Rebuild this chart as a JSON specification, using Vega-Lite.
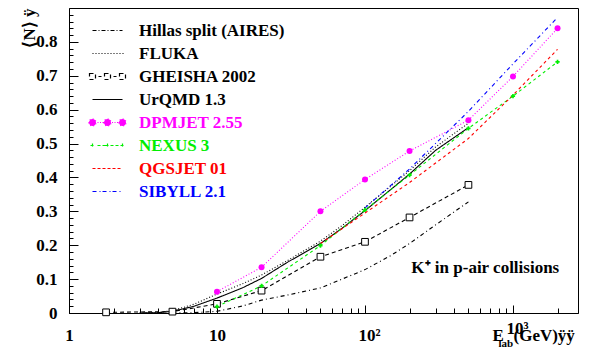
{
  "$schema": "https://vega.github.io/schema/vega-lite/v6.json",
  "width": 509,
  "height": 305,
  "autosize": {"type": "none"},
  "padding": {"left": 69, "top": 8, "right": 18, "bottom": 47},
  "background": "white",
  "params": [
    {"name": "legNames", "value": ["Hillas split (AIRES)", "FLUKA", "GHEISHA 2002", "UrQMD 1.3", "DPMJET 2.55", "NEXUS 3", "QGSJET 01", "SIBYLL 2.1"]},
    {"name": "legColors", "value": ["#000000", "#000000", "#000000", "#000000", "#ff00ff", "#00ee00", "#ff0000", "#0000ff"]},
    {"name": "legPaths", "value": [
      "M-3,0h0.8M-1.8,0h0.2M-1.2,0h0.8M0,0h0.2M0.6,0h0.8M1.8,0h0.2M2.4,0h0.6",
      "M-3,0h0.2M-2.4,0h0.2M-1.8,0h0.2M-1.2,0h0.2M-0.6,0h0.2M0,0h0.2M0.6,0h0.2M1.2,0h0.2M1.8,0h0.2M2.4,0h0.2M3,0h0.2",
      "M-3.6,-0.6h1.2v1.2h-1.2zM-1.8,0h0.6M-0.6,-0.6h1.2v1.2h-1.2zM1.2,0h0.6M2.4,-0.6h1.2v1.2h-1.2z",
      "M-3,0H3",
      "M-3.7,0a0.7,0.7 0 1,0 1.4,0a0.7,0.7 0 1,0 -1.4,0M-2,0h0.2M-1.5,0h0.2M-1,0h0.2M-0.7,0a0.7,0.7 0 1,0 1.4,0a0.7,0.7 0 1,0 -1.4,0M0.9,0h0.2M1.4,0h0.2M1.9,0h0.2M2.3,0a0.7,0.7 0 1,0 1.4,0a0.7,0.7 0 1,0 -1.4,0",
      "M-3.4,0h0.8M-3,-0.4v0.8M-2,0h0.6M-1,0h0.6M-0.4,0h0.8M0,-0.4v0.8M0.6,0h0.6M1.6,0h0.6M2.6,0h0.8M3,-0.4v0.8",
      "M-3,0h0.6M-2,0h0.6M-1,0h0.6M0,0h0.6M1,0h0.6M2,0h0.6",
      "M-3,0h1M-1.6,0h0.2M-1,0h1M0.4,0h0.2M1,0h1M2.4,0h0.2"
    ]}
  ],
  "data": {"values": [
    {"model": "Hillas split (AIRES)", "E": 5, "v": 0.0},
    {"model": "Hillas split (AIRES)", "E": 7, "v": 0.001},
    {"model": "Hillas split (AIRES)", "E": 10, "v": 0.005},
    {"model": "Hillas split (AIRES)", "E": 15, "v": 0.021},
    {"model": "Hillas split (AIRES)", "E": 20, "v": 0.038},
    {"model": "Hillas split (AIRES)", "E": 30, "v": 0.053},
    {"model": "Hillas split (AIRES)", "E": 50, "v": 0.074},
    {"model": "Hillas split (AIRES)", "E": 70, "v": 0.1},
    {"model": "Hillas split (AIRES)", "E": 100, "v": 0.128},
    {"model": "Hillas split (AIRES)", "E": 150, "v": 0.17},
    {"model": "Hillas split (AIRES)", "E": 200, "v": 0.205},
    {"model": "Hillas split (AIRES)", "E": 300, "v": 0.26},
    {"model": "Hillas split (AIRES)", "E": 500, "v": 0.328},
    {"model": "FLUKA", "E": 3, "v": 0.0},
    {"model": "FLUKA", "E": 4, "v": 0.002},
    {"model": "FLUKA", "E": 5, "v": 0.007},
    {"model": "FLUKA", "E": 7, "v": 0.026},
    {"model": "FLUKA", "E": 10, "v": 0.056},
    {"model": "FLUKA", "E": 15, "v": 0.087},
    {"model": "FLUKA", "E": 20, "v": 0.112},
    {"model": "FLUKA", "E": 30, "v": 0.155},
    {"model": "FLUKA", "E": 50, "v": 0.212},
    {"model": "FLUKA", "E": 70, "v": 0.258},
    {"model": "FLUKA", "E": 100, "v": 0.312},
    {"model": "FLUKA", "E": 150, "v": 0.375},
    {"model": "FLUKA", "E": 200, "v": 0.42},
    {"model": "FLUKA", "E": 300, "v": 0.49},
    {"model": "FLUKA", "E": 500, "v": 0.56},
    {"model": "GHEISHA 2002", "E": 1.78, "v": 0.002},
    {"model": "GHEISHA 2002", "E": 5, "v": 0.004},
    {"model": "GHEISHA 2002", "E": 10, "v": 0.027},
    {"model": "GHEISHA 2002", "E": 20, "v": 0.066},
    {"model": "GHEISHA 2002", "E": 50, "v": 0.166},
    {"model": "GHEISHA 2002", "E": 100, "v": 0.21},
    {"model": "GHEISHA 2002", "E": 200, "v": 0.282},
    {"model": "GHEISHA 2002", "E": 500, "v": 0.378},
    {"model": "UrQMD 1.3", "E": 3, "v": 0.0},
    {"model": "UrQMD 1.3", "E": 4, "v": 0.001},
    {"model": "UrQMD 1.3", "E": 5, "v": 0.005},
    {"model": "UrQMD 1.3", "E": 7, "v": 0.02},
    {"model": "UrQMD 1.3", "E": 10, "v": 0.044},
    {"model": "UrQMD 1.3", "E": 15, "v": 0.075},
    {"model": "UrQMD 1.3", "E": 20, "v": 0.102},
    {"model": "UrQMD 1.3", "E": 30, "v": 0.15},
    {"model": "UrQMD 1.3", "E": 50, "v": 0.205},
    {"model": "UrQMD 1.3", "E": 70, "v": 0.25},
    {"model": "UrQMD 1.3", "E": 100, "v": 0.302},
    {"model": "UrQMD 1.3", "E": 150, "v": 0.365},
    {"model": "UrQMD 1.3", "E": 200, "v": 0.41},
    {"model": "UrQMD 1.3", "E": 300, "v": 0.48},
    {"model": "UrQMD 1.3", "E": 500, "v": 0.547},
    {"model": "DPMJET 2.55", "E": 10, "v": 0.063},
    {"model": "DPMJET 2.55", "E": 20, "v": 0.135},
    {"model": "DPMJET 2.55", "E": 50, "v": 0.3},
    {"model": "DPMJET 2.55", "E": 100, "v": 0.394},
    {"model": "DPMJET 2.55", "E": 200, "v": 0.478},
    {"model": "DPMJET 2.55", "E": 500, "v": 0.569},
    {"model": "DPMJET 2.55", "E": 1000, "v": 0.698},
    {"model": "DPMJET 2.55", "E": 2000, "v": 0.84},
    {"model": "NEXUS 3", "E": 10, "v": 0.019},
    {"model": "NEXUS 3", "E": 20, "v": 0.08},
    {"model": "NEXUS 3", "E": 50, "v": 0.199},
    {"model": "NEXUS 3", "E": 100, "v": 0.304},
    {"model": "NEXUS 3", "E": 200, "v": 0.407},
    {"model": "NEXUS 3", "E": 500, "v": 0.545},
    {"model": "NEXUS 3", "E": 1000, "v": 0.64},
    {"model": "NEXUS 3", "E": 2000, "v": 0.741},
    {"model": "QGSJET 01", "E": 50, "v": 0.205},
    {"model": "QGSJET 01", "E": 100, "v": 0.295},
    {"model": "QGSJET 01", "E": 200, "v": 0.385},
    {"model": "QGSJET 01", "E": 500, "v": 0.515},
    {"model": "QGSJET 01", "E": 1000, "v": 0.643},
    {"model": "QGSJET 01", "E": 2000, "v": 0.778},
    {"model": "SIBYLL 2.1", "E": 100, "v": 0.31},
    {"model": "SIBYLL 2.1", "E": 200, "v": 0.425},
    {"model": "SIBYLL 2.1", "E": 500, "v": 0.595},
    {"model": "SIBYLL 2.1", "E": 1000, "v": 0.735},
    {"model": "SIBYLL 2.1", "E": 2000, "v": 0.872}
  ]},
  "resolve": {"axis": {"x": "independent", "y": "independent"}},
  "layer": [
    {
      "mark": {"type": "line", "strokeWidth": 1.1, "clip": true},
      "encoding": {
        "x": {"field": "E", "type": "quantitative",
          "scale": {"type": "log", "domain": [1, 2750], "nice": false},
          "axis": {"orient": "bottom", "values": [1, 10, 100, 1000], "tickSize": -8, "labelPadding": 22,
            "labelExpr": "datum.value <= 10 ? datum.label : ''",
            "title": "E", "titleX": 423, "titleY": 27, "titleAlign": "left", "titleBaseline": "alphabetic", "titleAnchor": null}},
        "y": {"field": "v", "type": "quantitative",
          "scale": {"domain": [0, 0.9], "nice": false},
          "axis": {"orient": "left", "values": [0, 0.1, 0.2, 0.3, 0.4, 0.5, 0.6, 0.7, 0.8], "format": ".1~f",
            "tickSize": -9, "labelPadding": 21, "title": "⟨N⟩ ÿ", "titleAnchor": "end", "titlePadding": -3}},
        "color": {"field": "model", "type": "nominal",
          "scale": {"domain": ["Hillas split (AIRES)", "FLUKA", "GHEISHA 2002", "UrQMD 1.3", "DPMJET 2.55", "NEXUS 3", "QGSJET 01", "SIBYLL 2.1"],
            "range": ["#000000", "#000000", "#000000", "#000000", "#ff00ff", "#00ee00", "#ff0000", "#0000ff"]},
          "legend": {
            "orient": "none", "legendX": 30, "legendY": 14, "title": null, "padding": 0,
            "symbolSize": 100, "labelOffset": 23, "rowPadding": 5, "labelLimit": 400,
            "encoding": {
              "symbols": {
                "shape": {"value": {"expr": "legPaths[indexof(legNames, datum.value)]"}},
                "fill": {"value": {"expr": "datum.value == 'DPMJET 2.55' ? '#ff00ff' : 'transparent'"}},
                "stroke": {"value": {"expr": "legColors[indexof(legNames, datum.value)]"}},
                "strokeWidth": {"value": 1.2},
                "opacity": {"value": 1}
              },
              "labels": {
                "fill": {"value": {"expr": "legColors[indexof(legNames, datum.value)]"}}
              }
            }
          }},
        "strokeDash": {"field": "model", "type": "nominal",
          "scale": {"domain": ["Hillas split (AIRES)", "FLUKA", "GHEISHA 2002", "UrQMD 1.3", "DPMJET 2.55", "NEXUS 3", "QGSJET 01", "SIBYLL 2.1"],
            "range": [[4, 3, 1, 3], [1, 2], [4, 3], [1, 0], [1, 2], [3, 3], [3, 3], [4, 3, 1, 3]]},
          "legend": null}
      }
    },
    {
      "transform": [{"filter": "datum.model == 'GHEISHA 2002'"}],
      "mark": {"type": "point", "shape": "square", "size": 45, "filled": true, "fill": "white", "stroke": "black", "strokeWidth": 1, "opacity": 1},
      "encoding": {
        "x": {"field": "E", "type": "quantitative",
          "axis": {"orient": "bottom", "values": [2, 3, 4, 5, 6, 7, 8, 9, 20, 30, 40, 50, 60, 70, 80, 90, 100, 200, 300, 400, 500, 600, 700, 800, 900, 2000],
            "tickSize": -5, "labels": true, "labelPadding": 19, "labelOffset": 4,
            "labelExpr": "datum.value == 100 ? '10²' : ''", "domain": false,
            "title": "lab", "titleFontSize": 11, "titleX": 429, "titleY": 33, "titleAlign": "left", "titleBaseline": "alphabetic", "titleAnchor": null}},
        "y": {"field": "v", "type": "quantitative",
          "axis": {"orient": "left", "values": [0.02, 0.04, 0.06, 0.08, 0.12, 0.14, 0.16, 0.18, 0.22, 0.24, 0.26, 0.28, 0.32, 0.34, 0.36, 0.38, 0.42, 0.44, 0.46, 0.48, 0.52, 0.54, 0.56, 0.58, 0.62, 0.64, 0.66, 0.68, 0.72, 0.74, 0.76, 0.78, 0.82, 0.84, 0.86, 0.88],
            "tickSize": -4, "labels": false, "domain": false, "title": null}}
      }
    },
    {
      "transform": [{"filter": "datum.model == 'DPMJET 2.55'"}],
      "mark": {"type": "point", "shape": "circle", "size": 36, "filled": true, "color": "#ff00ff", "opacity": 1},
      "encoding": {
        "x": {"field": "E", "type": "quantitative", "axis": null},
        "y": {"field": "v", "type": "quantitative", "axis": null}
      }
    },
    {
      "transform": [{"filter": "datum.model == 'NEXUS 3'"}],
      "mark": {"type": "point", "shape": "cross", "size": 18, "filled": true, "color": "#00ee00", "opacity": 1},
      "encoding": {
        "x": {"field": "E", "type": "quantitative", "axis": null},
        "y": {"field": "v", "type": "quantitative", "axis": null}
      }
    },
    {
      "data": {"values": [{"note": "K⁺ in p-air collisions", "E": 650, "v": 0.133}]},
      "mark": {"type": "text", "font": "Liberation Serif", "fontSize": 17, "fontWeight": "bold", "align": "center", "baseline": "middle", "color": "black"},
      "encoding": {
        "x": {"field": "E", "type": "quantitative",
          "axis": {"orient": "bottom", "values": [1000], "ticks": false, "tickSize": 0, "labels": true, "labelPadding": 7, "labelOffset": 4,
            "labelExpr": "'10³'", "domain": false,
            "title": "(GeV)ÿÿ", "titleX": 444, "titleY": 27, "titleAlign": "left", "titleBaseline": "alphabetic", "titleAnchor": null}},
        "y": {"field": "v", "type": "quantitative", "axis": null},
        "text": {"field": "note", "type": "nominal"}
      }
    }
  ],
  "config": {
    "view": {"stroke": "black", "strokeWidth": 1},
    "axis": {
      "labelFont": "Liberation Serif", "labelFontSize": 17, "labelFontWeight": "bold", "labelColor": "black",
      "titleFont": "Liberation Serif", "titleFontSize": 17, "titleFontWeight": "bold", "titleColor": "black",
      "tickColor": "black", "tickWidth": 1, "domainColor": "black", "domainWidth": 1,
      "grid": false, "labelFlush": false, "labelOverlap": false
    },
    "legend": {
      "labelFont": "Liberation Serif", "labelFontSize": 17, "labelFontWeight": "bold"
    }
  }
}
